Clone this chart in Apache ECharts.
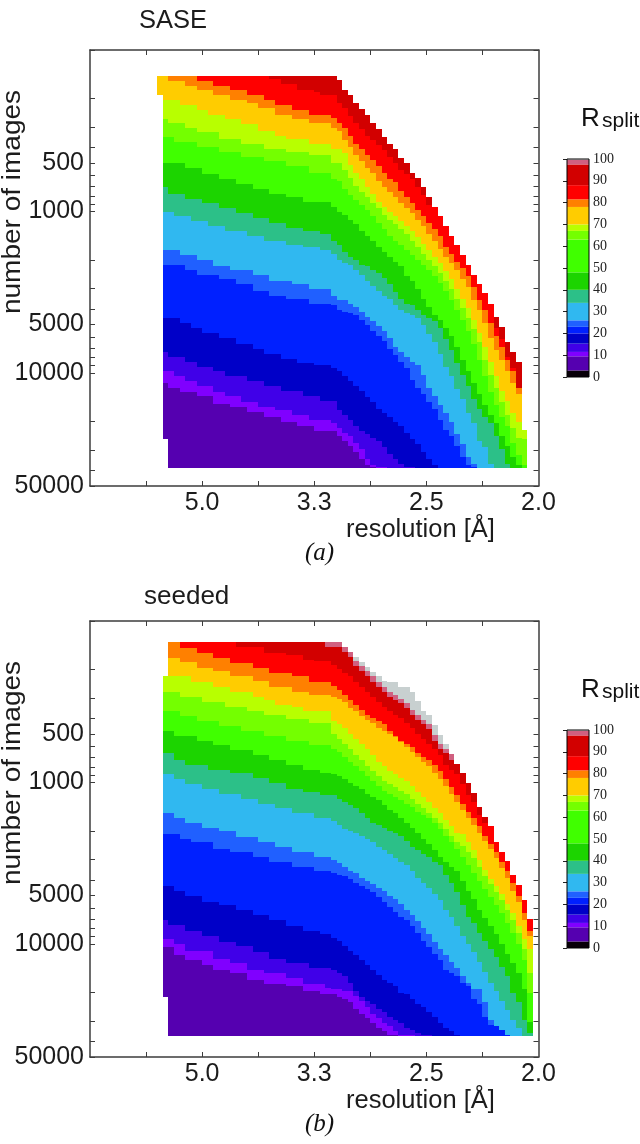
<!DOCTYPE html>
<html><head><meta charset="utf-8">
<style>html,body{margin:0;padding:0;background:#fff}#c{width:640px;height:1144px}</style>
<script src="https://cdn.jsdelivr.net/npm/echarts@6/dist/echarts.min.js"></script>
</head><body><div id="c"></div>
<script>
// x: 1/d (1/Angstrom). y: 100*log10(number of images). Every band array lists, per column, where that band begins.
const binWidth = 0.005;
const saseBins = [.16,.165,.17,.175,.18,.185,.19,.195,.2,.205,.21,.215,.22,.225,.23,.235,.24,.245,.25,.255,.26,.265,.27,.275,.28,.285,.29,.295,.3,.305,.31,.315,.32,.325,.33,.335,.34,.345,.35,.355,.36,.365,.37,.375,.38,.385,.39,.395,.4,.405,.41,.415,.42,.425,.43,.435,.44,.445,.45,.455,.46,.465,.47,.475,.48,.485];
const seededBins = [.165,.17,.175,.18,.185,.19,.195,.2,.205,.21,.215,.22,.225,.23,.235,.24,.245,.25,.255,.26,.265,.27,.275,.28,.285,.29,.295,.3,.305,.31,.315,.32,.325,.33,.335,.34,.345,.35,.355,.36,.365,.37,.375,.38,.385,.39,.395,.4,.405,.41,.415,.42,.425,.43,.435,.44,.445,.45,.455,.46,.465,.47,.475,.48,.485,.49];

const saseTop = [216,216,216,216,216,216,216,216,216,216,216,216,216,216,216,216,216,216,216,216,216,216,216,216,216,216,216,216,216,216,216,216,218.5,224.7,228,233,236.5,240,245,249,254,258,261,267,270,276,279,284.5,291,297,303,309,315,321,327,333,339,345,350.5,357,365,371.5,380.6,387,393,435];
const saseBottom = [228,441,459,459,459,459,459,459,459,459,459,459,459,459,459,459,459,459,459,459,459,459,459,459,459,459,459,459,459,459,459,459,459,459,459,459,459,459,459,459,459,459,459,459,459,459,459,459,459,459,459,459,459,459,459,459,459,459,459,459,459,459,459,459,459,459];
const saseRed = [200,200,200,200,200,200,200,200,200,200,200,200,200,200,200,200,200,200,200,200,218,218,221,221,221,225,225,225,226,228,228,228,233,236,241,245,249,253,256,259,262,266,270,274,277,280,285,290,296,200,200,200,200,200,200,200,200,200,200,200,372,379,390,397,409,200];
const saseOrange = [200,200,200,200,200,200,200,219,219,219,222,222,222,225,225,225,228,228,228,231,231,234,234,234,237,237,237,240,240,240,240,242,245,248,253,258,261,265,268,272,276,280,282,287,291,295,299,303,307,311,315,322,326,331,335,340,347,355,361,369,377,384,392,399,409,400];
const saseAmber = [200,200,219,219,219,222,222,225,225,225,228,228,228,231,231,231,233,233,236,236,236,240,240,240,243,243,243,245,245,245,245,248,250,256,260,265,269,273,276,281,285,288,291,295,298,301,305,309,314,318,323,328,332,336,342,347,355,361,369,378,386,392,399,406,413,400];
const saseYgreen = [300,231,231,231,234,234,234,237,237,240,240,240,243,243,243,246,246,246,250,250,250,253,253,255,255,255,255,258,258,258,258,261,261,264,271,276,280,285,289,294,297,300,303,306,309,312,316,320,324,328,332,337,342,348,354,360,367,375,384,393,402,411,417,425,430,400];
const saseLime = [300,243,245,245,245,248,248,251,251,251,251,255,255,255,255,258,258,258,258,261,261,261,261,263,263,263,263,265,265,265,265,270,270,274,279,284,288,291,295,298,302,305,308,311,314,318,322,326,330,334,338,343,348,354,360,366,373,381,392,401,409,418,426,434,440,441];
const saseBright = [300,254,254,257,257,257,257,260,260,260,260,263,263,263,263,266,266,266,266,269,269,269,269,272,272,272,272,276,276,276,276,280,281,286,290,293,296,299,303,307,311,315,318,321,324,327,330,333,336,340,344,349,355,361,367,374,382,392,402,412,420,427,433,443,451,457];
const saseGreen = [470,270,270,270,270,273,273,273,277,277,277,280,280,280,283,283,283,286,286,286,289,289,289,291,291,291,294,294,294,294,294,297,300,302,305,308,312,315,318,322,325,328,331,334,340,343,348,354,359,364,367,372,377,384,392,399,406,413,420,426,431,439,445,452,457];
const saseTeal = [470,285,289,289,289,292,292,292,295,295,295,298,298,298,301,301,301,304,304,304,307,307,307,310,310,310,312,312,312,314,314,318,321,325,328,330,333,334,336,338,341,345,350,354,357,358,361,364,366,368,372,379,386,394,401,408,416,422,427,431,439,447,456,460];
const saseSky = [470,300,300,303,303,303,306,306,306,309,309,309,312,312,312,312,315,315,315,318,318,318,318,321,321,321,322,322,322,324,324,326,330,332,333,336,339,343,346,349,352,354,358,361,363,364,366,370,376,381,388,396,402,410,416,425,431,442,446,456,460];
const saseMid = [470,324,324,324,327,327,327,330,330,330,334,334,334,336,336,336,336,339,339,339,343,343,343,343,345,345,345,348,348,348,348,352,355,355,357,359,362,365,368,371,374,378,384,387,390,393,395,401,409,414,420,425,430,438,444,452,456,459,460];
const saseBlue = [470,333,333,333,333,336,336,339,339,339,339,342,342,342,345,345,345,349,349,349,352,352,352,354,354,354,354,357,357,357,357,358,361,362,363,364,367,370,374,377,380,385,389,393,397,404,409,413,418,422,429,435,439,445,452,457,458];
const saseNavy = [470,366,366,366,369,369,372,372,375,375,375,378,378,378,382,382,382,385,385,388,388,388,391,391,391,394,394,394,395,395,395,397,399,402,405,408,411,415,418,422,425,427,430,433,437,441,444,449,453,457];
const saseIndigo = [470,387,390,390,390,393,393,396,396,396,399,399,402,402,402,402,405,405,405,408,408,408,411,411,411,411,414,414,414,417,417,417,423,426,429,433,436,438,440,442,446,450,453,456,458,458];
const saseViolet = [470,399,399,402,402,405,405,408,408,408,412,412,414,414,414,418,418,418,421,421,421,423,423,423,426,426,426,429,429,429,429,431,434,437,439,443,447,453,457,458,458];
const sasePurple = [470,406,409,409,412,412,412,414,414,414,419,419,419,421,421,421,424,424,424,427,427,427,430,430,430,433,433,433,436,436,436,436,439,442,445,449,453,457,458];

const seededTop = [234,213,213,213,213,213,213,213,213,213,213,213,213,213,213,213,213,213,213,213,213,213,213,213,213,213,213,213,213,213,213,213,216.3,219.4,222.5,225.2,228.3,231.3,234,237,237.5,237.5,240.6,240.6,243.7,249.3,255.5,258.4,264.3,270.5,276.3,282.3,288.5,294.2,300,306.6,315.3,321.4,327.2,337,342.7,348.5,357.5,363.7,372.6,384.4];
const seededBottom = [433,457,457,457,457,457,457,457,457,457,457,457,457,457,457,457,457,457,457,457,457,457,457,457,457,457,457,457,457,457,457,457,457,457,457,457,457,457,457,457,457,457,457,457,457,457,457,457,457,457,457,457,457,457,457,457,457,457,457,457,457,457,457,457,457,457];
const seededPink = [200,200,200,200,200,200,200,200,200,200,200,200,200,200,200,200,200,200,200,200,200,200,200,200,200,200,200,200,200,200,200,200,200,200,225,228,231,234,237.5,241,244,246,248,251,255,258,261,264,270.5,276,279,282,200,200,200,200,200,200,200,200,200,200,200,200,200,200];
const seededDark = [200,200,200,200,200,200,200,200,200,200,200,200,200,200,200,200,200,200,200,200,200,200,200,200,200,200,200,200,200,216,216,216,219,222.5,228,231,234,237.5,241,244,247,249,251,254,258,261,264,267,274,279,282,286,200,200,200,200,200,200,200,200,200,200,200,200,200,200];
const seededRed = [200,200,200,200,200,200,200,200,200,200,200,200,200,216,216,216,216,216,220,220,220,220,221,221,221,224,224,225,225,225,227,230,232,234,238,241,244,247,250,253,256,258,260,263,266,270,273,276,279,283,289,292,295,301,308,312,320,325,200,200,200,200,200,200,200,200];
const seededOrange = [200,200,200,217,217,217,220,220,220,223,223,223,226,226,226,226,229,229,229,232,232,232,232,234,234,234,238,238,238,238,240,243,246,249,252,255,258,260,262,264,268,271,274,276,278,282,284,286,289,293,298,303,308,313,318,322,327,333,338,343,349,355,362,370,381,392];
const seededAmber = [200,223,223,225.5,225.5,225.5,229,229,229,231,231,231,234,234,234,234,237,237,237,241,241,241,241,244,244,244,246,246,246,246,247,248,250,254,256,259,261,263,266,268,270,272,275,278,281,284,287,290,294,298,302,307,312,317,322,326,331,336,341,347,353,359,367,374,385,395];
const seededYgreen = [200,234,234,234,234,238,238,238,238,241,241,241,244,244,244,244,247,247,249,249,252,252,252,253,253,256,256,256,256,256,262,264,266,270,273,276,279,283,287,290,293,295,297,299,302,306,309,312,316,319,323,327,331,332,336.5,342,348,354,360,364,369,375,381,389,397,403];
const seededLime = [244,244,244,247,247,247,247,250,250,250,250,253,253,253,253,255.5,255.5,255.5,258,258,258,258,260.5,260.5,260.5,260.5,263,263,263,263,270,273,276,279,283,286,290,293,296,299,301,303,305,307,310,313,316,319,322,325,329,333,337,339,343,347,352,358,363,368,373,379,385,393,403,418];
const seededBright = [256,256,256,259,259,259,262,262,262,262,265,265,265,265,268,268,268,268,271,271,271,271,274,274,274,274,277,277,277,277,279,281,284,287,290,293,296,299,302,305,307,309,311,313,315,318,320,322,325,329,333,337,341,346,351,356,361,366,371,376,381,387,393,400,410,430];
const seededGreen = [268,268,271,271,271,271,274,274,274,277,277,277,280,280,280,280,283,283,283,286,286,286,289,289,289,292,292,292,294,294,295,296,298,300,302,304,307,309,311,314,317,319,322,325,328,331,335,338,342,346,349,352,355,361,367,372,379,384,389,394,400,406,412,418,428,448];
const seededTeal = [282,282,286,286,289,289,289,289,292,292,292,292,294,294,294,294,297,297,297,300,300,300,304,304,304,306,306,306,308,308,308,310,312,314,316,319,322,325,326,328,330,331,333,336,340,342,344,346,349,351,357,362,368,376,383,387,393,398,403,408,414,420,430,436,447,455];
const seededSky = [295,295,298,298,301,301,301,304,304,304,307,307,307,307,310,310,310,313,313,313,316,316,316,319,319,319,319,322,322,322,324,326,329,330,331,333,335,337,340,342,344,347,349,351,355,359,362,365,369,373,379,383,389,395,400,405,411,417,424,429,435,441,447,452,457];
const seededMid = [319,319,322,322,325,325,325,328,328,328,330,330,330,334,334,334,334,337,337,337,340,340,340,343,343,343,343,346,346,346,348,350,352,355,356,359,361,363,365,367,370,372,375,379,382,386,390,394,399,403,407,411,415,420,424,428,428,436,447,453,456];
const seededBlue = [332,332,332,335,335,337,337,337,337,341,341,341,343,343,343,343,346,346,346,349,349,349,349,352,352,352,352,355,355,355,356,357,358,360,362,364,366,368,371,374,377,380,383,385,389,393,398,402,406,410,416,418,420,424,426,434,437,445,450,451,453,456];
const seededNavy = [364,364,367,367,370,370,370,374,374,374,376,376,376,379,379,379,382,382,382,385,385,385,389,389,389,392,392,392,394,394,396,398,401,404,407,410,413,416,419,422,424,426,430,431,434,437,439,442,445,449,452,454,456];
const seededIndigo = [385,388,388,388,392,392,392,395,395,395,399,399,399,401,401,401,405,405,405,409,409,409,412,412,412,412,415,415,415,415,416,418,420,424,429,433,435,437,440,442,445,447,449,452,453,455,456,456];
const seededViolet = [397,397,400,400,404,404,404,404,404,409,409,409,412,412,412,416,416,416,418,418,418,418,421,421,421,425,425,425,425,427,428,428,429,429,432,435,439,443,446,449,451,454,456,456,456];
const seededPurple = [402,402,407,407,410,410,410,413,413,416,416,416,418,418,418,422,422,422,425,425,425,425,426,426,426,429,429,429,431,431,431,433,434,436,440,443,446,449,452,454,456,456];

const c = {grey:'#c8d0d0',pink:'#d06080',dark:'#d20000',red:'#ff0000',orange:'#ff8000',amber:'#ffcc00',ygreen:'#b8ff00',lime:'#74ff00',bright:'#40ff00',green:'#1cd400',teal:'#2cc088',sky:'#30b8f0',mid:'#2060ff',blue:'#0020ff',navy:'#0000c8',indigo:'#4000e8',violet:'#8000ff',purple:'#5500b0'};

const imageTicks = [100,200,300,400,500,600,700,800,900,1000,2000,3000,4000,5000,6000,7000,8000,9000,10000,20000,30000,40000,50000];
const imageLabels = [500,1000,5000,10000,50000];
const resolutionTicks = [0.15,0.2,0.25,0.3,0.35,0.4,0.45];
const resolutionLabels = [0.2,0.3,0.4,0.5];
const colorEdges = [0,3,9.5,11.5,15.3,20,23,26,34,40,48,63,67,70,78,81.5,88,97.5,99.7,100];
const colorSteps = ['#080008',c.purple,c.violet,c.indigo,c.navy,c.blue,c.mid,c.sky,c.teal,c.green,c.bright,c.lime,c.ygreen,c.amber,c.orange,c.red,c.dark,c.pink,c.grey];

const lg = v => 100*Math.log10(v);
const FONT = '"Liberation Sans", Arial, sans-serif';
const axisLine = {show:true,onZero:false,lineStyle:{color:'#3c3c3c',width:1.5}};
const tick = (values)=>({show:true,inside:true,length:5,customValues:values,lineStyle:{color:'#3c3c3c',width:1}});

function rectItem(params, api){
  const u = api.value(0);
  const a = api.coord([u, api.value(1)]);
  const b = api.coord([u + binWidth, api.value(2)]);
  const x0 = Math.round(a[0]), x1 = Math.round(b[0]);
  const y0 = Math.round(a[1]), y1 = Math.round(b[1]);
  return {type:'rect',shape:{x:x0,y:y0,width:x1-x0,height:y1-y0},style:{fill:api.visual('color')}};
}
function panelSeries(idx, bins, top, bottom, bands){
  return bands.map(([color, starts])=>{
    const data = [];
    bins.forEach((u,i)=>{
      const s = starts ? (starts[i] ?? 999) : 0;
      const y0 = Math.max(top[i], s);
      if (y0 < bottom[i]) data.push([u, y0, bottom[i]]);
    });
    return {type:'custom',coordinateSystem:'cartesian2d',xAxisIndex:idx,yAxisIndex:idx,silent:true,
      itemStyle:{color},data,encode:{x:0,y:[1,2]},renderItem:rectItem,animation:false,progressive:0,clip:true};
  });
}
const saseBands = [[c.dark,null],[c.red,saseRed],[c.orange,saseOrange],[c.amber,saseAmber],[c.ygreen,saseYgreen],[c.lime,saseLime],[c.bright,saseBright],[c.green,saseGreen],[c.teal,saseTeal],[c.sky,saseSky],[c.mid,saseMid],[c.blue,saseBlue],[c.navy,saseNavy],[c.indigo,saseIndigo],[c.violet,saseViolet],[c.purple,sasePurple]];
const seededBands = [[c.grey,null],[c.pink,seededPink],[c.dark,seededDark],[c.red,seededRed],[c.orange,seededOrange],[c.amber,seededAmber],[c.ygreen,seededYgreen],[c.lime,seededLime],[c.bright,seededBright],[c.green,seededGreen],[c.teal,seededTeal],[c.sky,seededSky],[c.mid,seededMid],[c.blue,seededBlue],[c.navy,seededNavy],[c.indigo,seededIndigo],[c.violet,seededViolet],[c.purple,seededPurple]];

const PANEL_TOP = [50,621];
const grid=[], xAxis=[], yAxis=[];
PANEL_TOP.forEach(t=>{
  grid.push({left:90,top:t,width:448.5,height:436,z:0});
});
PANEL_TOP.forEach(t=>{
  grid.push({left:90,top:t,width:448.5,height:436,z:0});
});
PANEL_TOP.forEach(t=>{
  grid.push({left:567,top:t+109,width:22,height:218,show:true,borderColor:'#000',borderWidth:1,backgroundColor:'transparent',z:3});
});
function mainAxes(i){
  xAxis.push({gridIndex:i,type:'value',min:0.1,max:0.5,position:'bottom',axisLine,axisTick:tick(resolutionTicks),splitLine:{show:false},
    axisLabel:{show:true,customValues:resolutionLabels,formatter:v=>(1/v).toFixed(1),fontFamily:FONT,fontSize:25,color:'#1c1c1c',margin:5,hideOverlap:false,showMinLabel:true,showMaxLabel:true}});
  yAxis.push({gridIndex:i,type:'value',min:200,max:lg(50000),inverse:true,position:'left',axisLine,axisTick:tick(imageTicks.map(lg)),splitLine:{show:false},
    axisLabel:{show:true,customValues:imageLabels.map(lg),formatter:v=>String(Math.round(Math.pow(10,v/100))),fontFamily:FONT,fontSize:25,color:'#1c1c1c',margin:6,hideOverlap:false}});
}
function mirrorAxes(i){
  xAxis.push({gridIndex:i,type:'value',min:0.1,max:0.5,position:'top',axisLine,axisTick:tick(resolutionTicks),axisLabel:{show:false},splitLine:{show:false}});
  yAxis.push({gridIndex:i,type:'value',min:200,max:lg(50000),inverse:true,position:'right',axisLine,axisTick:tick(imageTicks.map(lg)),axisLabel:{show:false},splitLine:{show:false}});
}
mainAxes(0);mainAxes(1);mirrorAxes(2);mirrorAxes(3);
[4,5].forEach(i=>{
  xAxis.push({gridIndex:i,type:'value',min:0,max:1,show:false});
  yAxis.push({gridIndex:i,type:'value',min:0,max:100,interval:10,position:'right',
    axisLine:{show:false},axisTick:{show:true,inside:true,length:4,lineStyle:{color:'#222',width:1}},splitLine:{show:false},
    axisLabel:{fontFamily:'"Liberation Serif", serif',fontSize:14,color:'#222',margin:4}});
});
function barSeries(i){
  const data = colorSteps.map((col,k)=>[colorEdges[k],colorEdges[k+1],k]);
  return {type:'custom',xAxisIndex:i,yAxisIndex:i,silent:true,animation:false,data,encode:{y:[0,1]},z:1,
    renderItem(p,api){
      const a=api.coord([0,api.value(1)]), b=api.coord([1,api.value(0)]);
      return {type:'rect',shape:{x:a[0],y:a[1],width:b[0]-a[0],height:b[1]-a[1]},style:{fill:colorSteps[api.value(2)]}};
    }};
}
const serifLabel = (txt,y)=>({type:'text',left:305,top:y-14,style:{text:'('+txt+')',font:'italic 25px "Liberation Serif", serif',fill:'#111'}});
const sansText = (t,x,y,s)=>({type:'text',left:x,top:y,style:{text:t,font:(s||25.5)+'px '+FONT,fill:'#1c1c1c'}});
const yTitle = (cy)=>({type:'text',x:13,y:cy,rotation:Math.PI/2,scaleX:1.12,style:{text:'number of images',font:'25px '+FONT,fill:'#1c1c1c',align:'center',verticalAlign:'middle'}});
const rsplit = (t)=>[
  {type:'text',left:581,top:t,style:{text:'R',font:'26px '+FONT,fill:'#111'}},
  {type:'text',left:602,top:t+5,style:{text:'split',font:'21px '+FONT,fill:'#111'}}
];
const chart = echarts.init(document.getElementById('c'),null,{renderer:'canvas'});
chart.setOption({
  animation:false,backgroundColor:'#fff',
  grid,xAxis,yAxis,
  series:[...panelSeries(0,saseBins,saseTop,saseBottom,saseBands),...panelSeries(1,seededBins,seededTop,seededBottom,seededBands),barSeries(4),barSeries(5)],
  graphic:[
    sansText('SASE',139,8),sansText('seeded',144,584,26),
    sansText('resolution [Å]',346,517),sansText('resolution [Å]',346,1088),
    yTitle(202),yTitle(773),
    serifLabel('a',555),serifLabel('b',1126),
    ...rsplit(106),...rsplit(677)
  ]
});
</script></body></html>
